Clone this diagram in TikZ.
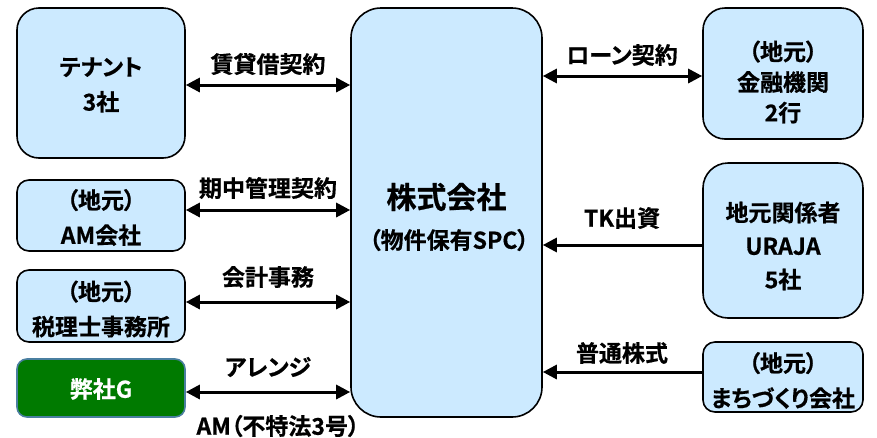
\documentclass[tikz,border=0pt]{standalone}
\usepackage{fontspec}
\setmainfont{Noto Sans CJK JP}[BoldFont={* Bold}, BoldFeatures={FakeBold=0.6}, RawFeature=+palt]
\usetikzlibrary{arrows.meta,calc}
\definecolor{boxblue}{HTML}{CCEAFF}
\definecolor{gfill}{HTML}{007A00}
\definecolor{gedge}{HTML}{4A7FA0}
\tikzset{
  ent/.style={draw=black, line width=1.6pt, fill=boxblue, inner sep=0pt},
  etext/.style={align=center, inner sep=0pt, font=\bfseries\fontsize{23}{35}\selectfont},
  lbl/.style={font=\bfseries\fontsize{23}{26}\selectfont, inner sep=0pt},
  rel/.style={line width=3pt, {Triangle[length=14pt,width=14pt]}-{Triangle[length=14pt,width=14pt]}},
  inrel/.style={line width=3pt, -{Triangle[length=14pt,width=14pt]}},
}
\begin{document}
\begin{tikzpicture}[x=1pt,y=-1pt]
\useasboundingbox[fill=white] (0,0) rectangle (877,437);
% left boxes
\node[ent, rounded corners=22pt, minimum width=168pt, minimum height=150pt] (tenant) at (101,83) {};
\node[etext] (tenantt) at (101,85) {テナント\\3社};
\node[ent, rounded corners=12pt, minimum width=168pt, minimum height=71pt] (am) at (101,215.5) {};
\node[etext] (amt) at (101,217.5) {（地元）\\AM会社};
\node[ent, rounded corners=12pt, minimum width=168pt, minimum height=72pt] (tax) at (101,306) {};
\node[etext] (taxt) at (101,309) {（地元）\\税理士事務所};
\node[ent, draw=gedge, fill=gfill, rounded corners=10pt, minimum width=168pt, minimum height=58pt] (our) at (101,388) {};
\node[etext, text=white] (ourt) at (101,389) {弊社G};
% center
\node[ent, rounded corners=30pt, minimum width=191pt, minimum height=409pt] (spc) at (446.5,212.5) {};
\node[font=\bfseries\fontsize{30}{34}\selectfont, inner sep=0pt] (spct) at (446.5,197) {株式会社};
\node[lbl] (spcs) at (449,240) {（物件保有SPC）};
% right boxes
\node[ent, rounded corners=22pt, minimum width=160pt, minimum height=131pt] (bank) at (783,73.5) {};
\node[etext, font=\bfseries\fontsize{23}{30.5}\selectfont] (bankt) at (783,82) {（地元）\\金融機関\\2行};
\node[ent, rounded corners=25pt, minimum width=160pt, minimum height=155pt] (local) at (783,240.5) {};
\node[etext, font=\bfseries\fontsize{23}{33.5}\selectfont] (localt) at (783,246) {地元関係者\\URAJA\\5社};
\node[ent, rounded corners=12pt, minimum width=160pt, minimum height=70pt] (machi) at (783,377) {};
\node[etext] (machit) at (783,380.5) {（地元）\\まちづくり会社};
% connectors
\draw[rel] ([yshift=-2pt]tenant.east) -- ([yshift=-2pt]tenant.east -| spc.west);
\draw[rel] ([yshift=5.5pt]am.east) -- ([yshift=5.5pt]am.east -| spc.west);
\draw[rel] ([yshift=4pt]tax.east) -- ([yshift=4pt]tax.east -| spc.west);
\draw[rel] ([yshift=-4pt]our.east) -- ([yshift=-4pt]our.east -| spc.west);
\draw[rel] ([yshift=-2.5pt]bank.west -| spc.east) -- ([yshift=-2.5pt]bank.west);
\draw[inrel] ([yshift=-4.5pt]local.west) -- ([yshift=-4.5pt]local.west -| spc.east);
\draw[inrel] ([yshift=5pt]machi.west) -- ([yshift=5pt]machi.west -| spc.east);
% labels
\node[lbl] (l1) at (268,64) {賃貸借契約};
\node[lbl] (l2) at (268,188) {期中管理契約};
\node[lbl] (l3) at (268,277) {会計事務};
\node[lbl] (l4) at (268,367) {アレンジ};
\node[lbl] (l5) at (278,426) {AM（不特法3号）};
\node[lbl] (l6) at (622,55) {ローン契約};
\node[lbl] (l7) at (622,218) {TK出資};
\node[lbl] (l8) at (622,353) {普通株式};
\end{tikzpicture}
\end{document}
